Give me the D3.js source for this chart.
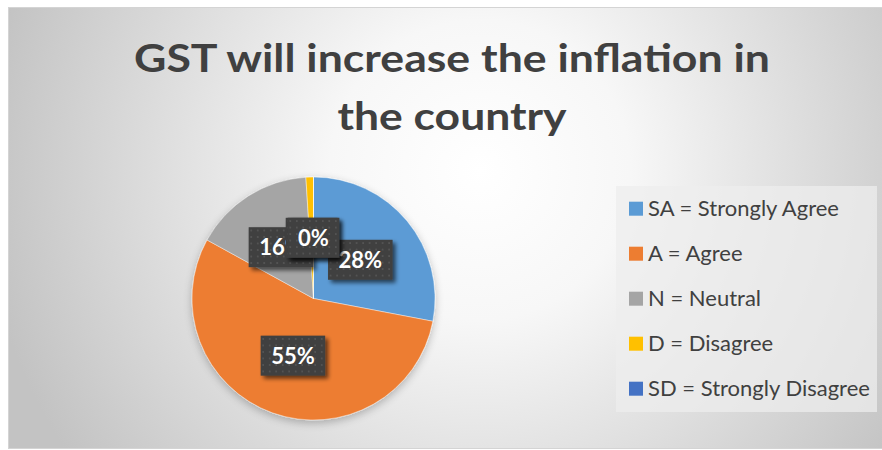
<!DOCTYPE html>
<html>
<head>
<meta charset="utf-8">
<script src="https://cdn.jsdelivr.net/npm/d3@7"></script>
<style>
  html, body { margin: 0; padding: 0; background: #ffffff; }
  svg { display: block; }
</style>
</head>
<body>
<svg id="chart" width="882" height="450"></svg>
<script>
// Survey responses (percent of respondents)
const categories = ["SA = Strongly Agree", "A = Agree", "N = Neutral", "D = Disagree", "SD = Strongly Disagree"];
const values = [28, 55, 16, 1, 0];
const colors = ["#5B9BD5", "#ED7D31", "#A5A5A5", "#FFC000", "#4472C4"];
const titleLines = ["GST will increase the inflation in", "the country"];
const titleWidths = [636, 229];

const W = 882, H = 450;
const svg = d3.select("#chart");
const defs = svg.append("defs");

// Chart area background: soft radial gradient
const bg = defs.append("radialGradient")
  .attr("id", "bgGrad")
  .attr("gradientUnits", "userSpaceOnUse")
  .attr("cx", 480).attr("cy", 170).attr("r", 500);
bg.append("stop").attr("offset", 0).attr("stop-color", "#ffffff");
bg.append("stop").attr("offset", 0.3).attr("stop-color", "#f7f7f7");
bg.append("stop").attr("offset", 1).attr("stop-color", "#c3c3c3");

// Dotted texture for the data-label boxes
const pat = defs.append("pattern")
  .attr("id", "dots")
  .attr("patternUnits", "userSpaceOnUse")
  .attr("width", 6.5).attr("height", 6.5);
pat.append("rect").attr("width", 6.5).attr("height", 6.5).attr("fill", "#3f3f3f");
pat.append("rect").attr("x", 2).attr("y", 2).attr("width", 1.6).attr("height", 1.6).attr("fill", "#5a5a5a");

// Drop shadow for label boxes
const sh = defs.append("filter").attr("id", "boxShadow")
  .attr("x", "-30%").attr("y", "-30%").attr("width", "160%").attr("height", "160%");
sh.append("feGaussianBlur").attr("in", "SourceAlpha").attr("stdDeviation", 2).attr("result", "b");
sh.append("feOffset").attr("in", "b").attr("dx", 3).attr("dy", 3).attr("result", "o");
sh.append("feComponentTransfer").attr("in", "o").attr("result", "s")
  .append("feFuncA").attr("type", "linear").attr("slope", 0.6);
const shm = sh.append("feMerge");
shm.append("feMergeNode").attr("in", "s");
shm.append("feMergeNode").attr("in", "SourceGraphic");

// Soft shadow under the pie
const ps = defs.append("filter").attr("id", "pieShadow")
  .attr("x", "-20%").attr("y", "-20%").attr("width", "140%").attr("height", "140%");
ps.append("feGaussianBlur").attr("in", "SourceAlpha").attr("stdDeviation", 4).attr("result", "b");
ps.append("feOffset").attr("in", "b").attr("dx", 0).attr("dy", 3).attr("result", "o");
ps.append("feComponentTransfer").attr("in", "o").attr("result", "s")
  .append("feFuncA").attr("type", "linear").attr("slope", 0.25);
const psm = ps.append("feMerge");
psm.append("feMergeNode").attr("in", "s");
psm.append("feMergeNode").attr("in", "SourceGraphic");

// Chart frame
svg.append("rect")
  .attr("x", 8.5).attr("y", 7.5)
  .attr("width", 880).attr("height", 441)
  .attr("fill", "url(#bgGrad)")
  .attr("stroke", "#d4d4d4").attr("stroke-width", 1);

// Title (two centred lines, condensed to the title block width)
const title = svg.append("g")
  .attr("font-family", "Lato, 'Open Sans', sans-serif")
  .attr("font-weight", 700)
  .attr("font-size", 39)
  .attr("fill", "#404040")
  .attr("text-anchor", "middle");
titleLines.forEach((t, i) => {
  title.append("text")
    .attr("x", 452)
    .attr("y", 72 + i * 58)
    .attr("textLength", titleWidths[i])
    .attr("lengthAdjust", "spacingAndGlyphs")
    .text(t);
});

// Pie
const cx = 313.5, cy = 298.5, R = 121.5;
const pie = d3.pie().sort(null).value(d => d.value);
const arc = d3.arc().innerRadius(0).outerRadius(R);
const data = categories.map((c, i) => ({ name: c, value: values[i], color: colors[i] }));
const arcs = pie(data);
const total = d3.sum(values);

const g = svg.append("g").attr("transform", `translate(${cx},${cy})`);
g.append("g").attr("filter", "url(#pieShadow)")
  .selectAll("path")
  .data(arcs)
  .join("path")
  .attr("d", arc)
  .attr("fill", d => d.data.color)
  .attr("stroke", "#ffffff")
  .attr("stroke-width", 0.6)
  .attr("stroke-opacity", 0.7);

// Data labels: dark textured boxes with white percentages
const fmt = d3.format(".0%");
const labels = g.append("g")
  .attr("font-family", "Lato, 'Open Sans', sans-serif")
  .attr("font-weight", 700)
  .attr("font-size", 22);
arcs.forEach(d => {
  const [lx, ly] = arc.centroid(d);
  const lg = labels.append("g").attr("transform", `translate(${lx},${ly})`);
  const txt = fmt(d.data.value / total);
  const rect = lg.append("rect").attr("fill", "url(#dots)").attr("filter", "url(#boxShadow)");
  const t = lg.append("text")
    .attr("text-anchor", "middle")
    .attr("dy", "0.36em")
    .attr("fill", "#ffffff")
    .text(txt);
  const w = t.node().getComputedTextLength() + 21;
  rect.attr("x", -w / 2).attr("y", -20).attr("width", w).attr("height", 40);
});

// Legend
const lgX = 616, lgY = 186;
svg.append("rect")
  .attr("x", lgX).attr("y", lgY)
  .attr("width", 261).attr("height", 226)
  .attr("fill", "#ededed").attr("fill-opacity", 0.74);
const legend = svg.append("g")
  .attr("font-family", "Lato, 'Open Sans', sans-serif")
  .attr("font-size", 22)
  .attr("fill", "#404040");
const item = legend.selectAll("g")
  .data(data)
  .join("g")
  .attr("transform", (d, i) => `translate(629,${201.7 + i * 45})`);
item.append("rect")
  .attr("width", 14).attr("height", 14)
  .attr("fill", d => d.color);
item.append("text")
  .attr("x", 19).attr("y", 14.5)
  .text(d => d.name);
</script>
</body>
</html>
